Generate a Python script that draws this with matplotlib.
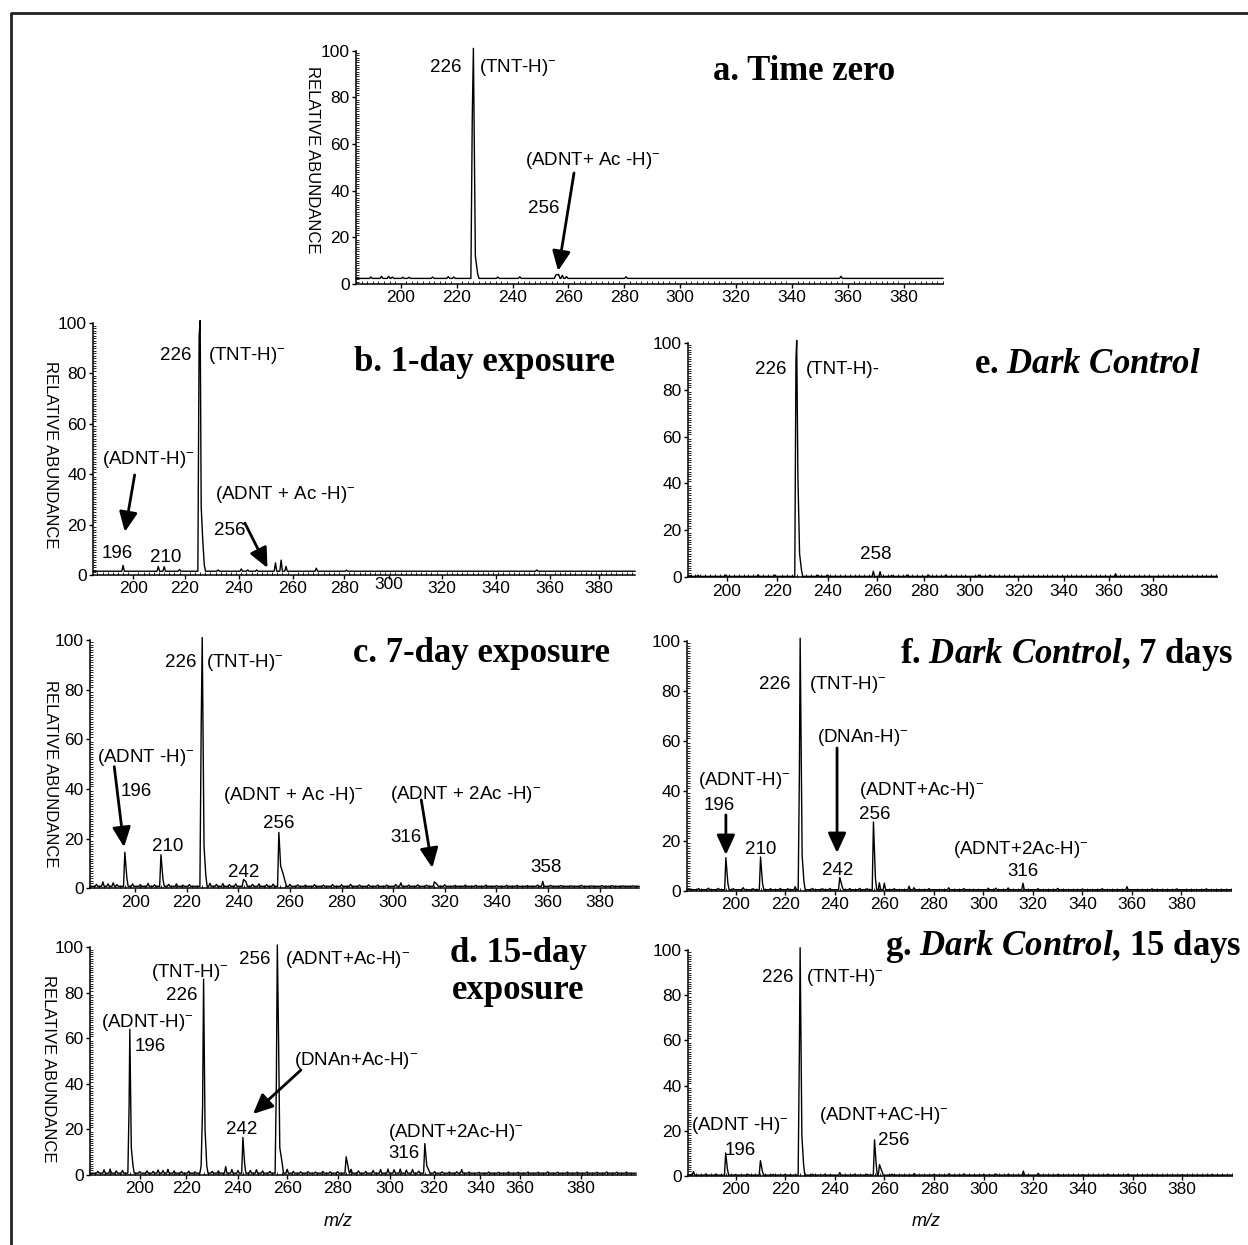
import matplotlib
matplotlib.use("Agg")
import matplotlib.pyplot as plt
from matplotlib.lines import Line2D
from matplotlib.ticker import MultipleLocator

plt.rcParams['font.family'] = ['Liberation Sans', 'DejaVu Sans']
plt.rcParams['mathtext.fontset'] = 'custom'
plt.rcParams['mathtext.sf'] = 'Liberation Sans'
plt.rcParams['mathtext.rm'] = 'Liberation Serif:bold'
plt.rcParams['mathtext.it'] = 'Liberation Serif:italic:bold'
plt.rcParams['mathtext.bf'] = 'Liberation Serif:bold'

W, H = 1248, 1245

# --- spectra: peak m/z and relative abundance ---
mz_a = [189.3, 193.1, 195.7, 197, 200.7, 203, 211.4, 217, 219, 225.6, 226, 226.7, 227.5,
        234.7, 242.6, 255.5, 256.5, 257.8, 259.3, 280.6, 357.5]
ab_a = [3.0, 3.3, 3.3, 3.0, 2.9, 2.9, 3.0, 3.2, 3.0, 72, 101, 12, 4.5,
        3.0, 3.1, 3.9, 4.1, 3.7, 3.2, 3.1, 3.3]
floor_a = 2.4

mz_b = [196, 209.7, 212, 218, 225.6, 226, 226.4, 227, 227.6, 233, 242, 244.5, 248,
        255.3, 257.5, 259.4, 271.2, 283, 357]
ab_b = [3.8, 3.4, 3.3, 2.2, 95, 101, 27, 14, 4, 2.0, 2.4, 2.0, 2.0,
        4.8, 5.9, 3.4, 2.7, 1.9, 2.0]
floor_b = 1.5

mz_e = [185, 196.6, 210, 217, 225.7, 226, 226.5, 227.2, 228, 234.8, 238.9, 257.8, 260.6,
        265.4, 271.8, 280.7, 287.9, 301.6, 306.4, 358.3]
ab_e = [0.9, 1.0, 1.1, 1.0, 93, 101, 43, 10, 3, 0.9, 0.9, 2.6, 2.4,
        0.8, 1.0, 1.0, 1.0, 1.0, 0.8, 1.5]
floor_e = 0.4

mz_c = [185, 187.5, 189.5, 191.5, 193, 196, 196.8, 199, 202, 205,
        207.5, 210, 210.8, 213, 216, 218.5, 221, 225.6, 226, 226.7,
        227.4, 229, 231.5, 234, 236.5, 239, 242, 243, 245.5, 248,
        251, 253.5, 255.7, 256.4, 257.3, 258.2, 260, 263, 266, 269.5,
        273, 276.5, 280, 283.5, 287, 290.5, 294, 297.5, 301, 303,
        306, 309.5, 313, 316, 317, 320, 324, 328, 332, 336,
        340, 344, 348, 352, 356, 358, 361, 365, 369, 373,
        377, 381, 385, 389, 393]
ab_c = [1.6, 2.6, 1.8, 2.2, 1.5, 14.5, 4, 1.8, 1.5, 2.0,
        1.4, 13.5, 3.5, 1.6, 1.8, 1.3, 1.5, 65, 101, 17,
        5, 2.0, 1.6, 1.9, 1.5, 1.8, 3.6, 2.6, 1.6, 1.8,
        1.5, 1.7, 22.5, 9, 6, 2.5, 1.6, 1.4, 1.3, 1.5,
        1.3, 1.5, 1.4, 1.6, 1.3, 1.4, 1.3, 1.3, 1.5, 2.2,
        1.3, 1.4, 1.3, 2.6, 1.6, 1.4, 1.2, 1.3, 1.2, 1.3,
        1.1, 1.2, 1.2, 1.1, 1.3, 2.8, 1.2, 1.1, 1.0, 1.2,
        1.0, 1.1, 1.1, 1.0, 1.0]
floor_c = 0.8

mz_f = [185, 189, 193, 196, 196.8, 199, 203, 207, 210, 210.8,
        214, 218, 221, 224, 225.7, 226, 226.8, 227.5, 231, 235,
        238, 242, 243, 246, 250, 253, 255.6, 256.4, 258, 260,
        264, 270, 272, 278, 286, 292, 302, 305, 310, 316,
        322, 330, 340, 348, 358, 368, 378, 390]
ab_f = [0.9, 1.0, 0.9, 13.2, 3, 0.8, 1.2, 0.8, 13.5, 3,
        0.8, 0.9, 0.8, 1.6, 48, 101, 14, 4, 0.9, 0.8,
        0.9, 5.3, 1.5, 0.8, 0.9, 0.8, 27.5, 5, 3.2, 3.0,
        0.8, 1.8, 1.2, 0.8, 1.2, 0.8, 1.0, 1.0, 1.1, 3.0,
        0.8, 0.9, 0.7, 0.8, 1.6, 0.7, 0.7, 0.7]
floor_f = 0.4

mz_d = [183, 185.5, 188, 190.5, 193, 195.7, 196, 196.6, 197.3, 200,
        203, 205.5, 207.5, 209.5, 211.5, 214, 217, 220, 222.5, 225,
        225.6, 226, 226.6, 227.3, 229.5, 232, 235, 237.5, 240, 242,
        242.7, 245, 247.5, 250, 253, 255.6, 256, 256.5, 257, 258,
        260, 262.5, 265.5, 268.5, 271.5, 274.5, 277.5, 280.5, 284, 284.8,
        286, 289, 292, 295, 298, 301, 303.5, 306, 308.5, 311,
        313.5, 316, 316.8, 317.6, 320, 323, 326, 329, 331, 334,
        338, 342, 346, 350, 354, 358, 362, 366, 370, 374,
        378, 382, 386, 390, 394, 398]
ab_d = [1.6, 2.3, 2.6, 1.8, 2.0, 30, 64, 12, 4, 1.5,
        1.8, 1.6, 2.2, 2.0, 2.5, 1.8, 1.5, 1.7, 1.4, 4.0,
        30, 86, 20, 4, 1.6, 1.8, 3.7, 2.4, 2.0, 16.5,
        5, 2.0, 2.3, 1.8, 1.6, 40, 101, 60, 12, 5,
        2.5, 1.6, 1.4, 1.5, 1.3, 1.6, 1.4, 1.5, 8, 3.5,
        2.5, 1.8, 1.6, 2.0, 2.4, 2.6, 2.3, 2.6, 2.2, 2.4,
        1.7, 13.8, 4, 2.2, 1.5, 1.4, 1.3, 1.4, 2.4, 1.3,
        1.2, 1.3, 1.2, 1.3, 1.2, 1.3, 1.2, 1.4, 1.2, 1.3,
        1.2, 1.3, 1.2, 1.3, 1.2, 1.3]
floor_d = 0.8

mz_g = [183, 188, 192, 196, 196.7, 200, 205, 210, 210.8, 215,
        220, 225.7, 226, 226.7, 227.4, 231, 236, 242, 248, 253,
        256, 256.6, 258, 259, 263, 272, 280, 286, 292, 300,
        305, 310, 316, 322, 330, 340, 350, 358, 368, 380, 392]
ab_g = [2.0, 0.9, 0.8, 10.2, 3, 0.7, 0.8, 6.8, 2, 0.7,
        0.8, 55, 101, 18, 5, 0.8, 0.8, 1.5, 0.8, 0.8,
        16, 6, 5, 2, 0.8, 1.1, 0.8, 1.0, 0.9, 0.8,
        0.9, 0.8, 2.2, 1.2, 0.7, 0.6, 0.7, 0.7, 0.6, 0.6, 0.6]
floor_g = 0.4

tick_labels = ['200', '220', '240', '260', '280', '300', '320', '340', '360', '380']
ticks_std = [200, 220, 240, 260, 280, 300, 320, 340, 360, 380]
# the printed labels of some panels are not evenly placed in the original
ticks_b = [200, 220, 241, 262, 282, 299.5, 320, 341, 362, 381]
ticks_d = [200, 219, 240, 260, 280.7, 301.7, 319.7, 338.6, 354.7, 379.5]
ticks_e = [197, 218, 239, 259.5, 279, 298, 318, 337, 355.5, 374]


def sup(s):
    return s + r'$^{\mathsf{-}}$'


HALF_W = 0.5


def trace(mz, ab, floor, xlim):
    pairs = sorted(zip(mz, ab))
    xs, ys = [xlim[0]], [floor]
    for i, (m, h) in enumerate(pairs):
        if i == 0 or m - pairs[i - 1][0] > 2 * HALF_W:
            xs.append(m - HALF_W); ys.append(floor)
        xs.append(m); ys.append(h)
        if i == len(pairs) - 1 or pairs[i + 1][0] - m > 2 * HALF_W:
            xs.append(m + HALF_W); ys.append(floor)
    xs.append(xlim[1]); ys.append(floor)
    return xs, ys


fig = plt.figure(figsize=(W / 100, H / 100), dpi=100)


def panel(box, xlim, ticks, mz, ab, floor, notes, arrows):
    left, right, top, bottom = box
    ax = fig.add_axes([left / W, 1 - bottom / H, (right - left) / W, (bottom - top) / H])
    ax.patch.set_alpha(0)
    ax.set_xlim(xlim)
    ax.set_ylim(0, 100)
    for s in ['top', 'right']:
        ax.spines[s].set_visible(False)
    for s in ['left', 'bottom']:
        ax.spines[s].set_linewidth(1.1)
    ax.set_xticks(ticks)
    ax.set_xticklabels(tick_labels)
    ax.set_yticks([0, 20, 40, 60, 80, 100])
    ax.xaxis.set_minor_locator(MultipleLocator(2))
    ax.yaxis.set_minor_locator(MultipleLocator(1))
    ax.tick_params(which='major', direction='out', length=3, width=1, labelsize=12.5, pad=1.5)
    ax.tick_params(which='minor', direction='in', length=2, width=0.6)

    xs, ys = trace(mz, ab, floor, xlim)
    ax.plot(xs, ys, color='black', lw=1.0, clip_on=False)

    for txt, x, y, ha in notes:
        ax.annotate(txt, (x, y), xytext=(0, -4.8), textcoords='offset points',
                    ha=ha, va='baseline', fontsize=13.5, annotation_clip=False)
    for tail, head in arrows:
        ax.annotate('', xy=head, xytext=tail, annotation_clip=False,
                    arrowprops=dict(arrowstyle='-|>,head_length=1.2,head_width=0.55',
                                    lw=2, color='black', shrinkA=0, shrinkB=0))
    return ax


# a. time zero
panel((356, 943, 50.7, 284), (184, 394), ticks_std, mz_a, ab_a, floor_a,
      [('226', 221.9, 93.9, 'right'), (sup('(TNT-H)'), 228, 93.9, 'left'),
       (sup('(ADNT+ Ac -H)'), 244.5, 54, 'left'), ('256', 251.3, 33.4, 'center')],
      [((262, 47.6), (256.3, 5.6))])

# b. 1-day exposure
ax_b = panel((93, 635, 323, 575), (184.3, 395.2), ticks_b, mz_b, ab_b, floor_b,
             [('226', 222.5, 88, 'right'), (sup('(TNT-H)'), 229, 88, 'left'),
              (sup('(ADNT-H)'), 205.6, 46.8, 'center'), ('196', 193.7, 9.5, 'center'),
              ('210', 212.7, 7.9, 'center'), (sup('(ADNT + Ac -H)'), 231.7, 32.9, 'left'),
              ('256', 237.7, 18.7, 'center')],
             [((200.5, 39.7), (196.7, 17.1)), ((243.4, 20.6), (252.2, 2.8))])
ax_b.get_xticklabels()[5].set_y(0.016)

# e. dark control
panel((688, 1217, 342.7, 577.3), (180.9, 400.4), ticks_e, mz_e, ab_e, floor_e,
      [('226', 221.9, 89.6, 'right'), ('(TNT-H)-', 229.7, 89.6, 'left'),
       ('258', 258.8, 10.8, 'center')],
      [])

# c. 7-day exposure
panel((90, 639, 640, 888.3), (182.5, 395.3), ticks_std, mz_c, ab_c, floor_c,
      [('226', 223.6, 91.9, 'right'), (sup('(TNT-H)'), 227.5, 91.9, 'left'),
       (sup('(ADNT -H)'), 204, 53.7, 'center'), ('196', 200.4, 39.7, 'center'),
       ('210', 212.8, 17.9, 'center'), (sup('(ADNT + Ac -H)'), 234.1, 38.4, 'left'),
       ('256', 255.7, 26.8, 'center'), ('242', 242.2, 7.4, 'center'),
       (sup('(ADNT + 2Ac -H)'), 298.8, 38.8, 'left'), ('316', 305, 21.5, 'center'),
       ('358', 359.3, 9.4, 'center')],
      [((191.9, 49), (195.7, 16.6)), ((310.9, 35.6), (315.2, 8.2))])

# f. dark control, 7 days
panel((687, 1231, 640.7, 890.7), (180.3, 400), ticks_std, mz_f, ab_f, floor_f,
      [('226', 222.2, 83.5, 'right'), (sup('(TNT-H)'), 229.5, 83.5, 'left'),
       (sup('(DNAn-H)'), 232.7, 62.3, 'left'), ('242', 241.2, 9.1, 'center'),
       (sup('(ADNT-H)'), 184.7, 45.1, 'left'), ('196', 193.2, 35.1, 'center'),
       ('210', 210.1, 17.5, 'center'), (sup('(ADNT+Ac-H)'), 249.7, 41.1, 'left'),
       ('256', 256, 31.5, 'center'), (sup('(ADNT+2Ac-H)'), 287.6, 17.5, 'left'),
       ('316', 316, 8.7, 'center')],
      [((240.9, 57.1), (240.9, 15.1)), ((196, 30.3), (196, 14.3))])

# d. 15-day exposure
panel((90, 636, 947.3, 1175), (179.8, 401.9), ticks_d, mz_d, ab_d, floor_d,
      [(sup('(TNT-H)'), 220.3, 90, 'center'), ('226', 217, 79.9, 'center'),
       ('256', 253.4, 95.7, 'right'), (sup('(ADNT+Ac-H)'), 259.1, 95.7, 'left'),
       (sup('(ADNT-H)'), 202.9, 68.1, 'center'), ('196', 198, 57.5, 'left'),
       (sup('(DNAn+Ac-H)'), 262.7, 51.4, 'left'), ('242', 241.3, 21.1, 'center'),
       (sup('(ADNT+2Ac-H)'), 301.1, 19.8, 'left'), ('316', 307.6, 10.5, 'center')],
      [((265.6, 46.1), (246.1, 26.8))])

# g. dark control, 15 days
panel((688, 1232, 950, 1176), (180.8, 400.1), ticks_std, mz_g, ab_g, floor_g,
      [('226', 223.4, 88.9, 'right'), (sup('(TNT-H)'), 228.2, 88.9, 'left'),
       (sup('(ADNT -H)'), 182, 23.5, 'left'), ('196', 202, 12.4, 'center'),
       (sup('(ADNT+AC-H)'), 233.5, 27.9, 'left'), ('256', 257.3, 16.8, 'left')],
      [])

# panel titles
titles = [
    (713, 80, 'a. Time zero'),
    (354, 371, 'b. 1-day exposure'),
    (974, 373, r'e. $\mathit{Dark}$ $\mathit{Control}$'),
    (353, 662, 'c. 7-day exposure'),
    (900, 663, r'f. $\mathit{Dark}$ $\mathit{Control}$, 7 days'),
    (450, 962, 'd. 15-day'),
    (452, 999, 'exposure'),
    (885, 955, r'g. $\mathit{Dark}$ $\mathit{Control}$, 15 days'),
]
for x, y, s in titles:
    fig.text(x / W, 1 - y / H, s, fontsize=25, fontweight='bold',
             family='Liberation Serif', ha='left', va='baseline')

for x, y in [(312, 160), (50, 455), (50, 774), (48, 1069)]:
    fig.text(x / W, 1 - y / H, 'RELATIVE ABUNDANCE', rotation=270,
             ha='center', va='center', fontsize=12)

for x, y in [(338, 1221), (926, 1221)]:
    fig.text(x / W, 1 - y / H, 'm/z', style='italic', ha='center', va='center', fontsize=13)

# frame line on the top and left edges
fig.add_artist(Line2D([11 / W, 11 / W, 1], [0, 1 - 13 / H, 1 - 13 / H], color='#222222', lw=2))

fig.savefig('out.png', dpi=100)
